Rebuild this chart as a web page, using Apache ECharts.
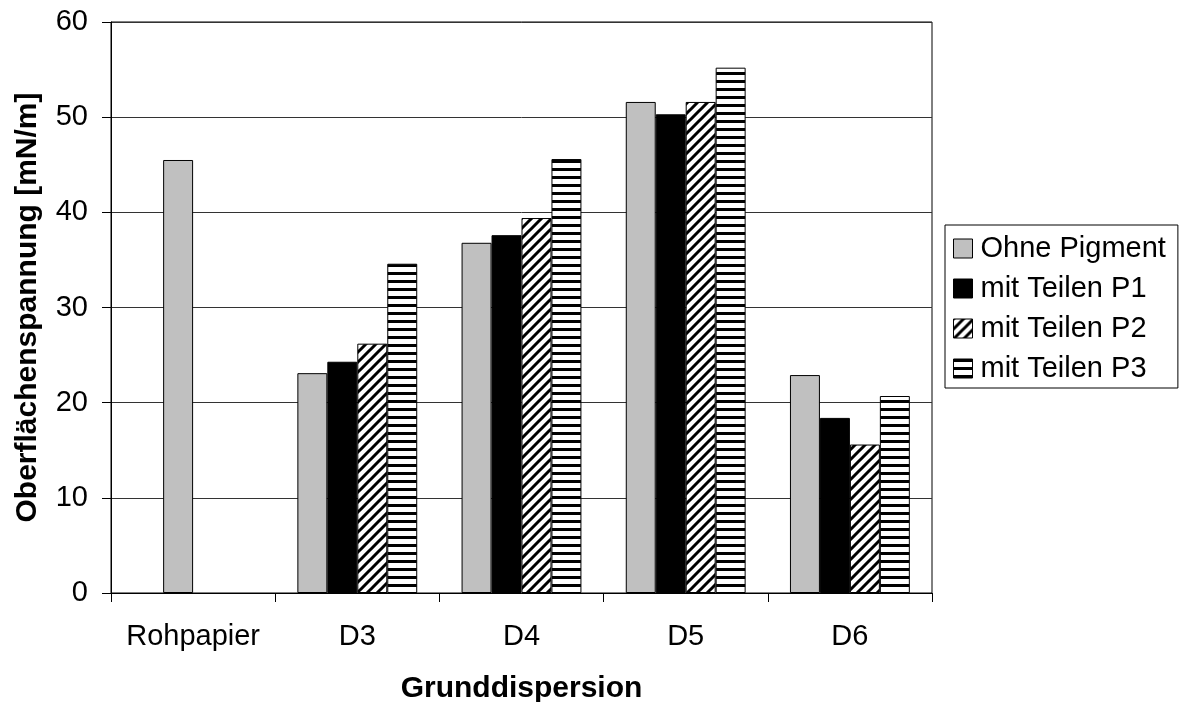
<!DOCTYPE html>
<html>
<head>
<meta charset="utf-8">
<script src="https://cdn.jsdelivr.net/npm/echarts@6/dist/echarts.min.js"></script>
<style>
html,body{margin:0;padding:0;background:#fff;}
#c{width:1179px;height:702px;}
</style>
</head>
<body>
<div id="c"></div>
<script>
// ---- data ----
const categories = ['Rohpapier', 'D3', 'D4', 'D5', 'D6'];
const seriesNames = ['Ohne Pigment', 'mit Teilen P1', 'mit Teilen P2', 'mit Teilen P3'];
const ohnePigment = [45.5, 23.1, 36.8, 51.6, 22.9];
const teileP1 = [null, 24.3, 37.6, 50.3, 18.4];
const teileP2 = [null, 26.2, 39.4, 51.6, 15.6];
const teileP3 = [null, 34.6, 45.6, 55.2, 20.7];
const yTicks = [0, 10, 20, 30, 40, 50, 60];

// ---- patterns ----
function hStripes() {
  const c = document.createElement('canvas');
  c.width = 8; c.height = 8;
  const g = c.getContext('2d');
  g.fillStyle = '#fff'; g.fillRect(0, 0, 8, 8);
  g.fillStyle = '#000'; g.fillRect(0, 0, 8, 3);
  return c;
}
function dStripes() {
  const n = 10;
  const c = document.createElement('canvas');
  c.width = n; c.height = n;
  const g = c.getContext('2d');
  g.fillStyle = '#fff'; g.fillRect(0, 0, n, n);
  g.strokeStyle = '#000'; g.lineWidth = 3;
  g.beginPath();
  g.moveTo(-2, n + 2); g.lineTo(n + 2, -2);
  g.moveTo(-2, 2); g.lineTo(2, -2);
  g.moveTo(n - 2, n + 2); g.lineTo(n + 2, n - 2);
  g.stroke();
  return c;
}
const GRAY = '#c0c0c0';
const fills = [GRAY, '#000000', {image: dStripes(), repeat: 'repeat'}, {image: hStripes(), repeat: 'repeat'}];

// In the original chart the Rohpapier bar sits in the second slot of its group.
const toBar = v => (v == null ? '-' : v);
const ohneData = ohnePigment.map((v, i) => (i === 0 ? '-' : v));
const p1Data = teileP1.map((v, i) => (i === 0 ? {value: ohnePigment[0], itemStyle: {color: GRAY}} : toBar(v)));
const seriesData = [ohneData, p1Data, teileP2.map(toBar), teileP3.map(toBar)];

const FONT = 'Liberation Sans, Arial, sans-serif';
const FS = 29;
const FT = 30;

const chart = echarts.init(document.getElementById('c'), null, {renderer: 'canvas'});
chart.setOption({
  animation: false,
  backgroundColor: '#fff',
  grid: {left: 111, right: 247, top: 22, bottom: 109, containLabel: false, outerBoundsMode: 'none',
         show: true, borderColor: '#000', borderWidth: 1, backgroundColor: 'transparent'},
  legend: {
    orient: 'vertical',
    left: 945, top: 225,
    data: seriesNames,
    icon: 'rect',
    itemWidth: 19, itemHeight: 19,
    itemGap: 11,
    padding: [9, 12, 5, 8],
    borderColor: '#000', borderWidth: 1,
    textStyle: {fontFamily: FONT, fontSize: FS, color: '#000', padding: [0, 0, 0, 3]},
    itemStyle: {borderColor: '#000', borderWidth: 1}
  },
  xAxis: {
    type: 'category',
    data: categories,
    name: 'Grunddispersion',
    nameLocation: 'middle',
    nameGap: 81,
    nameTextStyle: {fontFamily: FONT, fontSize: FT, fontWeight: 'bold', color: '#000'},
    axisLine: {lineStyle: {color: '#000', width: 1}},
    axisTick: {show: true, length: 9, interval: 0, lineStyle: {color: '#000'}},
    axisLabel: {fontFamily: FONT, fontSize: FS, color: '#000', margin: 29, interval: 0, hideOverlap: false},
    splitLine: {show: false}
  },
  yAxis: {
    type: 'value',
    min: yTicks[0], max: yTicks[yTicks.length - 1], interval: 10,
    name: 'Oberflächenspannung [mN/m]',
    nameLocation: 'middle',
    nameGap: 68,
    nameTextStyle: {fontFamily: FONT, fontSize: FT, fontWeight: 'bold', color: '#000'},
    axisLine: {show: true, lineStyle: {color: '#000', width: 1}},
    axisTick: {show: true, length: 9, lineStyle: {color: '#000'}},
    axisLabel: {fontFamily: FONT, fontSize: FS, color: '#000', margin: 23},
    splitLine: {show: true, lineStyle: {color: '#333', width: 1}}
  },
  series: seriesNames.map((name, i) => ({
    name: name,
    type: 'bar',
    data: seriesData[i],
    barGap: '0%',
    barCategoryGap: '27%',
    itemStyle: {color: fills[i], borderColor: '#000', borderWidth: 1}
  }))
});
</script>
</body>
</html>
